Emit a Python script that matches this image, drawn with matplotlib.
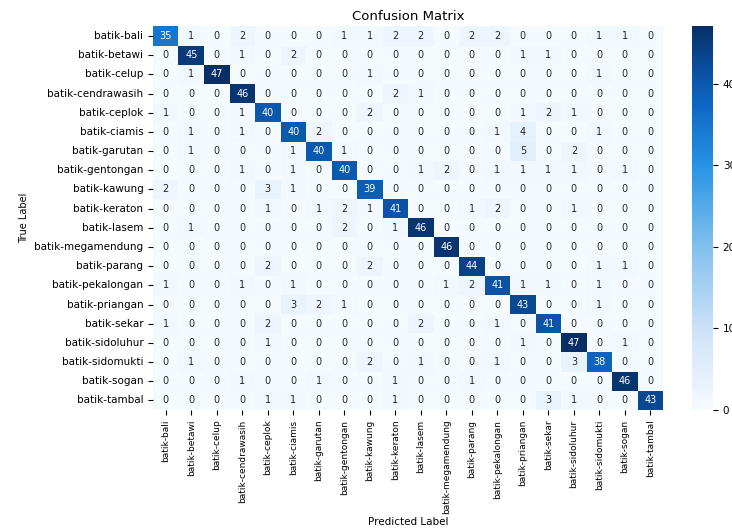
import numpy as np
import matplotlib
matplotlib.use("Agg")
import matplotlib.pyplot as plt
from matplotlib.colors import LinearSegmentedColormap
import seaborn as sns

classes = [
    "batik-bali", "batik-betawi", "batik-celup", "batik-cendrawasih",
    "batik-ceplok", "batik-ciamis", "batik-garutan", "batik-gentongan",
    "batik-kawung", "batik-keraton", "batik-lasem", "batik-megamendung",
    "batik-parang", "batik-pekalongan", "batik-priangan", "batik-sekar",
    "batik-sidoluhur", "batik-sidomukti", "batik-sogan", "batik-tambal",
]

row_bali        = [35, 1, 0, 2, 0, 0, 0, 1, 1, 2, 2, 0, 2, 2, 0, 0, 0, 1, 1, 0]
row_betawi      = [0, 45, 0, 1, 0, 2, 0, 0, 0, 0, 0, 0, 0, 0, 1, 1, 0, 0, 0, 0]
row_celup       = [0, 1, 47, 0, 0, 0, 0, 0, 1, 0, 0, 0, 0, 0, 0, 0, 0, 1, 0, 0]
row_cendrawasih = [0, 0, 0, 46, 0, 0, 0, 0, 0, 2, 1, 0, 0, 0, 0, 0, 0, 0, 0, 0]
row_ceplok      = [1, 0, 0, 1, 40, 0, 0, 0, 2, 0, 0, 0, 0, 0, 1, 2, 1, 0, 0, 0]
row_ciamis      = [0, 1, 0, 1, 0, 40, 2, 0, 0, 0, 0, 0, 0, 1, 4, 0, 0, 1, 0, 0]
row_garutan     = [0, 1, 0, 0, 0, 1, 40, 1, 0, 0, 0, 0, 0, 0, 5, 0, 2, 0, 0, 0]
row_gentongan   = [0, 0, 0, 1, 0, 1, 0, 40, 0, 0, 1, 2, 0, 1, 1, 1, 1, 0, 1, 0]
row_kawung      = [2, 0, 0, 0, 3, 1, 0, 0, 39, 0, 0, 0, 0, 0, 0, 0, 0, 0, 0, 0]
row_keraton     = [0, 0, 0, 0, 1, 0, 1, 2, 1, 41, 0, 0, 1, 2, 0, 0, 1, 0, 0, 0]
row_lasem       = [0, 1, 0, 0, 0, 0, 0, 2, 0, 1, 46, 0, 0, 0, 0, 0, 0, 0, 0, 0]
row_megamendung = [0, 0, 0, 0, 0, 0, 0, 0, 0, 0, 0, 46, 0, 0, 0, 0, 0, 0, 0, 0]
row_parang      = [0, 0, 0, 0, 2, 0, 0, 0, 2, 0, 0, 0, 44, 0, 0, 0, 0, 1, 1, 0]
row_pekalongan  = [1, 0, 0, 1, 0, 1, 0, 0, 0, 0, 0, 1, 2, 41, 1, 1, 0, 1, 0, 0]
row_priangan    = [0, 0, 0, 0, 0, 3, 2, 1, 0, 0, 0, 0, 0, 0, 43, 0, 0, 1, 0, 0]
row_sekar       = [1, 0, 0, 0, 2, 0, 0, 0, 0, 0, 2, 0, 0, 1, 0, 41, 0, 0, 0, 0]
row_sidoluhur   = [0, 0, 0, 0, 1, 0, 0, 0, 0, 0, 0, 0, 0, 0, 1, 0, 47, 0, 1, 0]
row_sidomukti   = [0, 1, 0, 0, 0, 0, 0, 0, 2, 0, 1, 0, 0, 1, 0, 0, 3, 38, 0, 0]
row_sogan       = [0, 0, 0, 1, 0, 0, 1, 0, 0, 1, 0, 0, 1, 0, 0, 0, 0, 0, 46, 0]
row_tambal      = [0, 0, 0, 0, 1, 1, 0, 0, 0, 1, 0, 0, 0, 0, 0, 3, 1, 0, 0, 43]

cm = np.array([
    row_bali, row_betawi, row_celup, row_cendrawasih, row_ceplok,
    row_ciamis, row_garutan, row_gentongan, row_kawung, row_keraton,
    row_lasem, row_megamendung, row_parang, row_pekalongan, row_priangan,
    row_sekar, row_sidoluhur, row_sidomukti, row_sogan, row_tambal,
])

# Vivid blue ramp
blues = LinearSegmentedColormap.from_list(
    "vivid_blues",
    [(0.00, "#f5faff"), (0.20, "#cfe3f7"), (0.42, "#84c1ef"),
     (0.63, "#2a95e5"), (0.80, "#0d66c2"), (0.90, "#0a4d9a"),
     (1.00, "#082e66")],
)

fig = plt.figure(figsize=(7.32, 5.29), dpi=100)
ax = fig.add_axes([0.209, 0.225, 0.697, 0.725])
cax = fig.add_axes([0.946, 0.225, 0.028, 0.725])

sns.heatmap(
    cm, annot=True, fmt="d", cmap=blues, ax=ax, cbar_ax=cax,
    xticklabels=classes, yticklabels=classes,
    annot_kws={"fontsize": 7},
)

ax.set_title("Confusion Matrix", fontsize=9.5, pad=5)
ax.set_xlabel("Predicted Label", fontsize=7.5, labelpad=2)
ax.set_ylabel("True Label", fontsize=7)
ax.tick_params(axis="x", labelsize=6.5, rotation=90)
ax.tick_params(axis="y", labelsize=7.5, rotation=0)
cax.tick_params(labelsize=7.5)

fig.savefig("out.png", dpi=100)
